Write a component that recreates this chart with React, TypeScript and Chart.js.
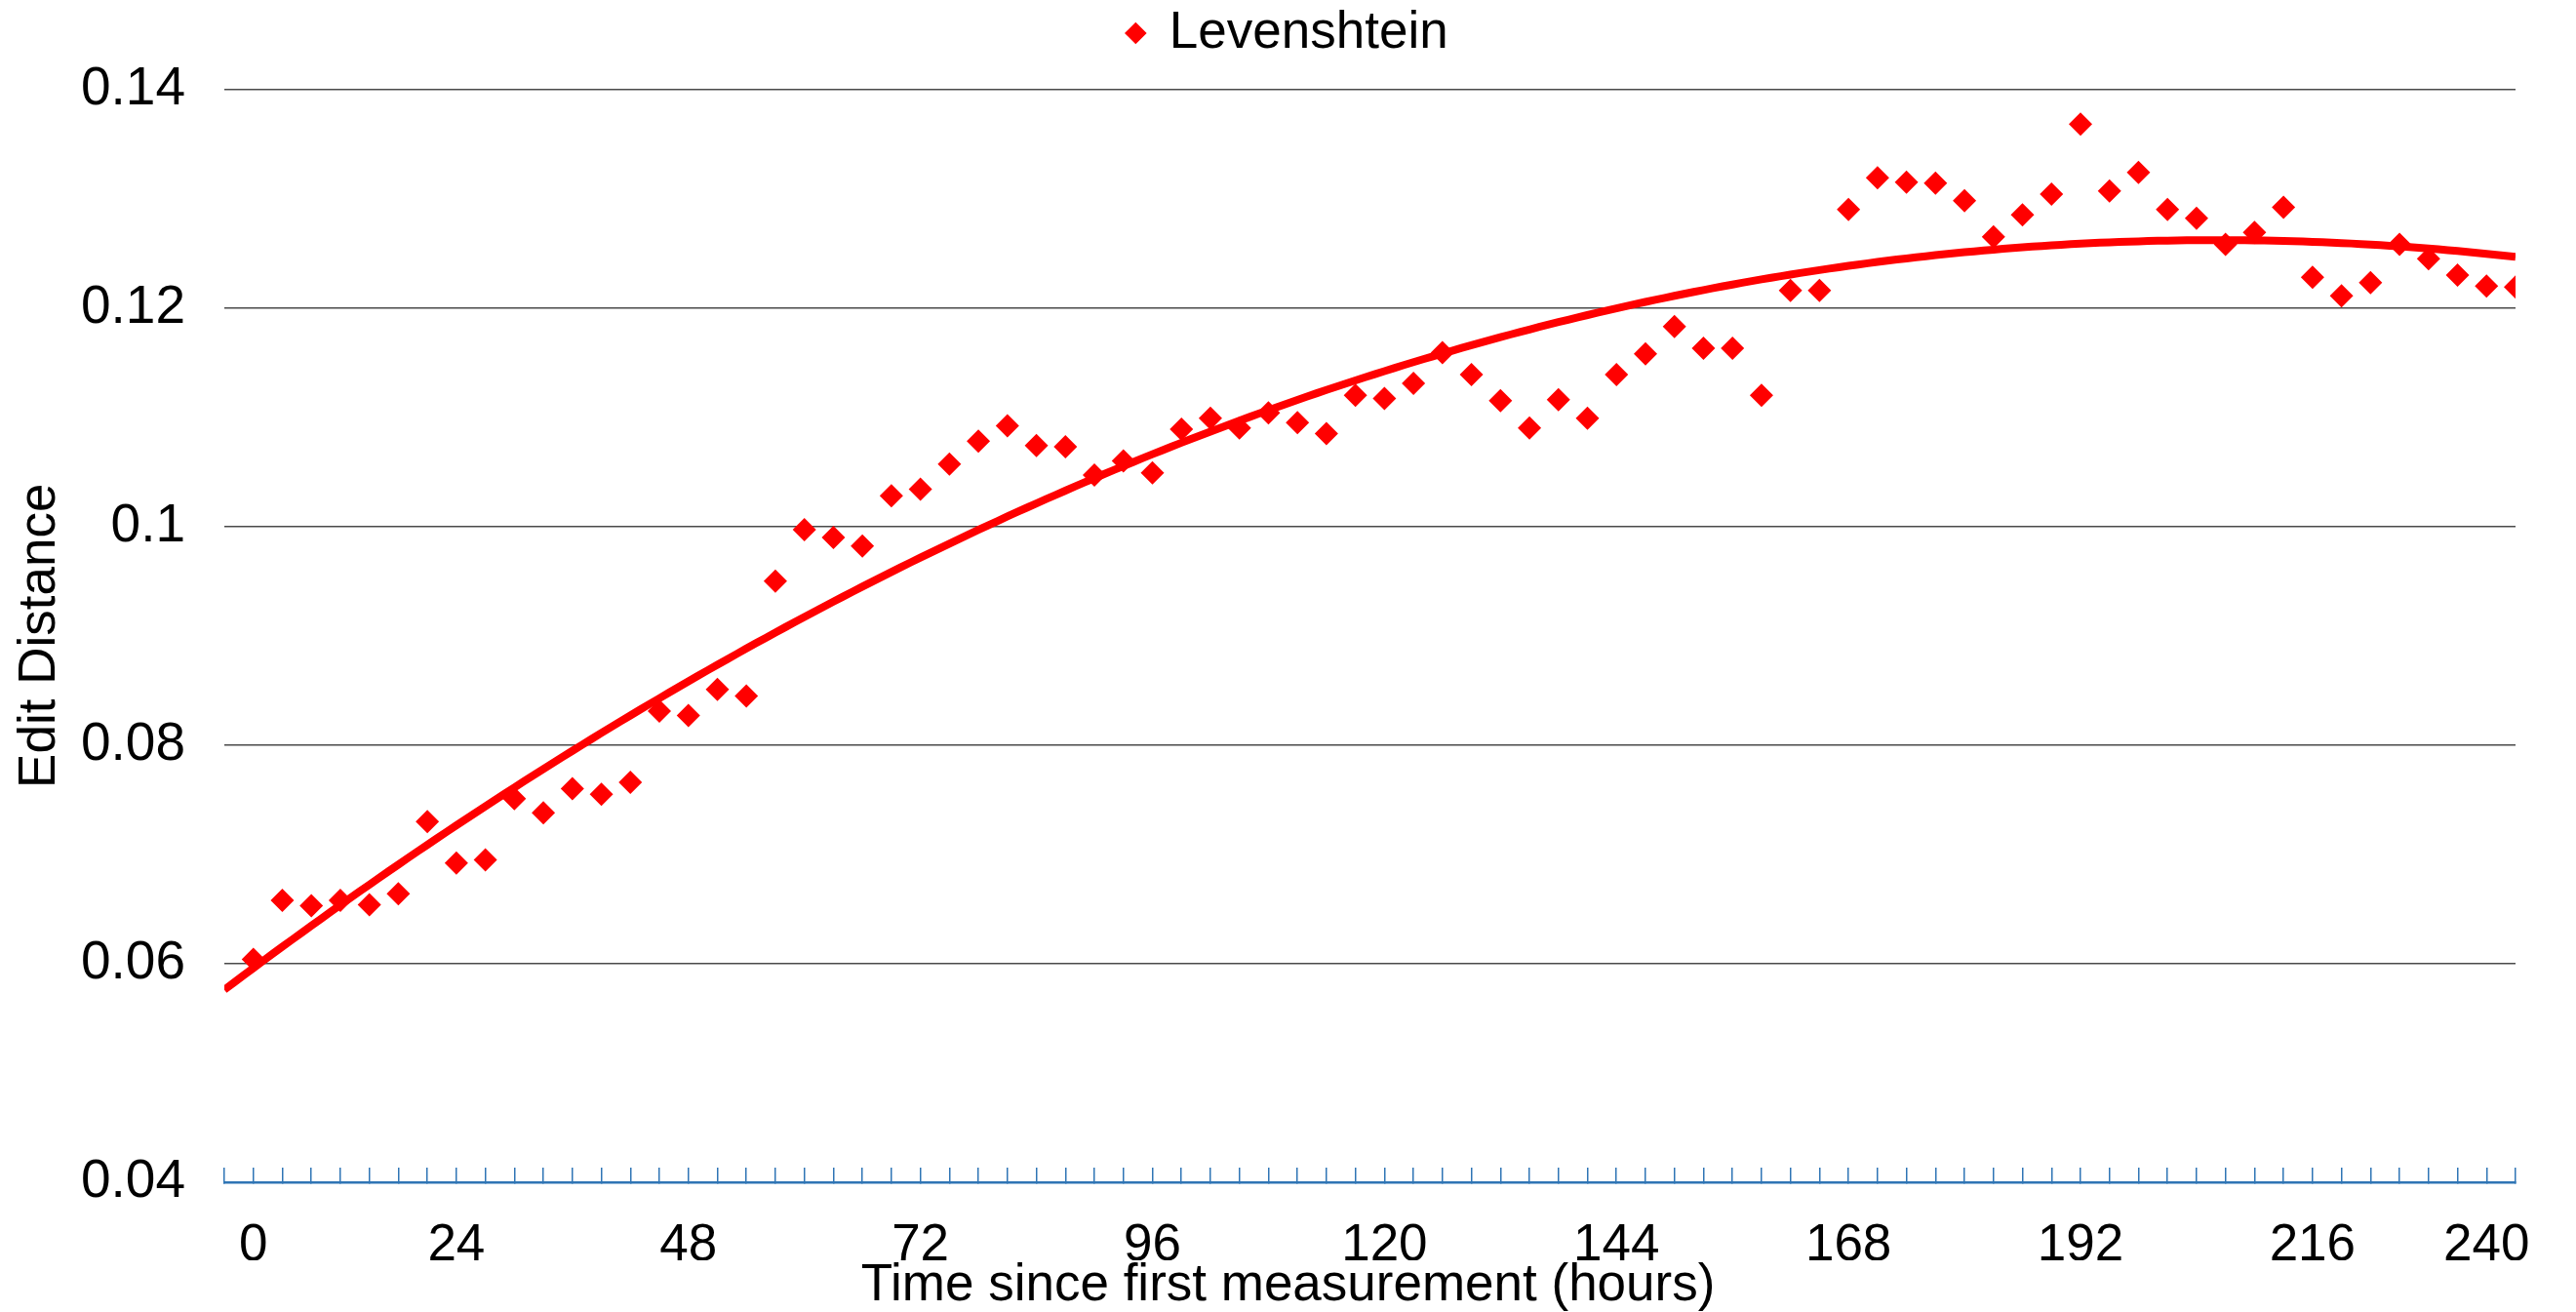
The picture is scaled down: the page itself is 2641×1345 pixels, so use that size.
import { useEffect, useRef } from 'react';
import { Chart, registerables } from 'chart.js';

Chart.register(...registerables);

// Hours since first measurement for each sample (every 3 hours)
const hours = [
  3, 6, 9, 12, 15, 18, 21, 24, 27, 30, 33, 36, 39, 42, 45, 48, 51, 54, 57, 60,
  63, 66, 69, 72, 75, 78, 81, 84, 87, 90, 93, 96, 99, 102, 105, 108, 111, 114, 117, 120,
  123, 126, 129, 132, 135, 138, 141, 144, 147, 150, 153, 156, 159, 162, 165, 168, 171, 174, 177, 180,
  183, 186, 189, 192, 195, 198, 201, 204, 207, 210, 213, 216, 219, 222, 225, 228, 231, 234, 237,
];

// Levenshtein edit distance values
const levenshtein = [
  0.0604, 0.0658, 0.0653, 0.0658, 0.0654, 0.0664, 0.0730, 0.0692, 0.0695, 0.0751,
  0.0738, 0.0760, 0.0755, 0.0766, 0.0831, 0.0827, 0.0851, 0.0845, 0.0950, 0.0997,
  0.0990, 0.0982, 0.1028, 0.1034, 0.1057, 0.1078, 0.1092, 0.1074, 0.1073, 0.1047,
  0.1060, 0.1049, 0.1089, 0.1099, 0.1090, 0.1104, 0.1095, 0.1085, 0.1120, 0.1117,
  0.1131, 0.1159, 0.1139, 0.1115, 0.1090, 0.1116, 0.1099, 0.1139, 0.1158, 0.1183,
  0.1163, 0.1163, 0.1120, 0.1216, 0.1216, 0.1290, 0.1319, 0.1315, 0.1314, 0.1298,
  0.1265, 0.1285, 0.1304, 0.1368, 0.1307, 0.1324, 0.1290, 0.1282, 0.1258, 0.1269,
  0.1292, 0.1228, 0.1211, 0.1223, 0.1258, 0.1245, 0.1230, 0.1220, 0.1219,
];

// Axis definitions
const xMin = 0;
const xMax = 237;
const xTickHours = [0, ...hours];
const xLabelHours = [3, 24, 48, 72, 96, 120, 144, 168, 192, 216, 234];
const xLabelText = ['0', '24', '48', '72', '96', '120', '144', '168', '192', '216', '240'];
const yMin = 0.04;
const yMax = 0.14;
const yStep = 0.02;
const xTitle = 'Time since first measurement (hours)';
const yTitle = 'Edit Distance';
const seriesName = 'Levenshtein';

// Polynomial (order 2) least-squares trendline, as the original chart's trendline
function quadFit(xs: number[], ys: number[]) {
  const n = xs.length;
  let s1 = 0, s2 = 0, s3 = 0, s4 = 0, t0 = 0, t1 = 0, t2 = 0;
  for (let i = 0; i < n; i++) {
    const x = xs[i], y = ys[i];
    s1 += x; s2 += x * x; s3 += x * x * x; s4 += x * x * x * x;
    t0 += y; t1 += x * y; t2 += x * x * y;
  }
  const A = [
    [n, s1, s2, t0],
    [s1, s2, s3, t1],
    [s2, s3, s4, t2],
  ];
  for (let c = 0; c < 3; c++) {
    for (let r = c + 1; r < 3; r++) {
      const f = A[r][c] / A[c][c];
      for (let k = c; k < 4; k++) A[r][k] -= f * A[c][k];
    }
  }
  const coef = [0, 0, 0];
  for (let r = 2; r >= 0; r--) {
    let s = A[r][3];
    for (let k = r + 1; k < 3; k++) s -= A[r][k] * coef[k];
    coef[r] = s / A[r][r];
  }
  return (x: number) => coef[0] + coef[1] * x + coef[2] * x * x;
}

const FONT = "'Liberation Sans', Arial, Helvetica, sans-serif";

const legendSpacer = {
  id: 'legendSpacer',
  beforeUpdate(chart: any) {
    const lg = chart.legend;
    if (lg && !lg._spaced) {
      const fit = lg.fit;
      lg.fit = function () {
        fit.call(this);
        this.height += 21;
      };
      lg._spaced = true;
    }
  },
};

export default function App() {
  const ref = useRef<HTMLCanvasElement | null>(null);

  useEffect(() => {
    if (!ref.current) return;
    const f = quadFit(hours, levenshtein);
    const trend: { x: number; y: number }[] = [];
    for (let h = xMin; h <= xMax; h += 1) trend.push({ x: h, y: f(h) });

    const chart = new Chart(ref.current, {
      type: 'scatter',
      data: {
        datasets: [
          {
            label: seriesName,
            data: hours.map((h, i) => ({ x: h, y: levenshtein[i] })),
            pointStyle: 'rectRot',
            pointRadius: 12,
            pointHoverRadius: 12,
            backgroundColor: '#FF0000',
            borderColor: '#FF0000',
            borderWidth: 0,
          },
          {
            label: 'trend',
            data: trend,
            showLine: true,
            borderColor: '#FF0000',
            backgroundColor: '#FF0000',
            borderWidth: 8,
            pointRadius: 0,
            pointHoverRadius: 0,
            fill: false,
          } as any,
        ],
      },
      options: {
        responsive: false,
        animation: false,
        devicePixelRatio: 1,
        layout: { padding: 0 },
        plugins: {
          tooltip: { enabled: false },
          title: {
            display: true,
            position: 'bottom',
            text: xTitle,
            color: '#000',
            font: { family: FONT, size: 53, weight: 'normal', lineHeight: 1 },
            padding: { top: 0, bottom: 0 },
          },
          legend: {
            display: true,
            position: 'top',
            labels: {
              usePointStyle: true,
              boxWidth: 16,
              boxHeight: 16,
              padding: 7.5,
              color: '#000',
              font: { family: FONT, size: 53 },
              filter: (item: any) => item.datasetIndex === 0,
            },
          },
        },
        scales: {
          x: {
            type: 'linear',
            min: xMin,
            max: xMax,
            afterBuildTicks: (s: any) => {
              s.ticks = xTickHours.map((v) => ({ value: v }));
            },
            afterFit: (s: any) => {
              s.height = 80;
            },
            ticks: {
              autoSkip: false,
              maxRotation: 0,
              minRotation: 0,
              padding: 49,
              color: '#000',
              font: { family: FONT, size: 53 },
              callback: (v: any) => {
                const i = xLabelHours.indexOf(Number(v));
                return i >= 0 ? xLabelText[i] : '';
              },
            },
            grid: {
              drawOnChartArea: false,
              drawTicks: true,
              tickLength: -15,
              color: '#2F75B5',
              lineWidth: 1.5,
            },
            border: { display: true, color: '#2F75B5', width: 2.5 },
          },
          y: {
            type: 'linear',
            position: 'left',
            min: yMin,
            max: yMax,
            afterFit: (s: any) => {
              s.width = 230;
            },
            ticks: {
              stepSize: yStep,
              padding: 40,
              color: '#000',
              font: { family: FONT, size: 55 },
              callback: (v: any) => String(Number(Number(v).toFixed(2))),
            },
            grid: {
              drawTicks: false,
              color: (ctx: any) =>
                ctx.tick && Math.abs(ctx.tick.value - yMin) < 1e-9 ? 'rgba(0,0,0,0)' : '#4a4a4a',
              lineWidth: 1.5,
            },
            border: { display: false },
            title: {
              display: true,
              text: yTitle,
              color: '#000',
              font: { family: FONT, size: 53, lineHeight: 1 },
              padding: { top: 15, bottom: 0 },
            },
          },
          // empty right-hand spacer axis so the plot ends where the reference does
          yRight: {
            type: 'linear',
            position: 'right',
            display: true,
            min: yMin,
            max: yMax,
            afterFit: (s: any) => {
              s.width = 62;
            },
            ticks: { display: false },
            grid: { display: false, drawTicks: false },
            border: { display: false },
          } as any,
        },
      },
      plugins: [legendSpacer],
    });

    return () => chart.destroy();
  }, []);

  return (
    <div style={{ position: 'fixed', left: 0, top: 0, width: 2641, height: 1345, background: '#fff' }}>
      <canvas ref={ref} width={2641} height={1345} style={{ display: 'block' }} />
    </div>
  );
}
